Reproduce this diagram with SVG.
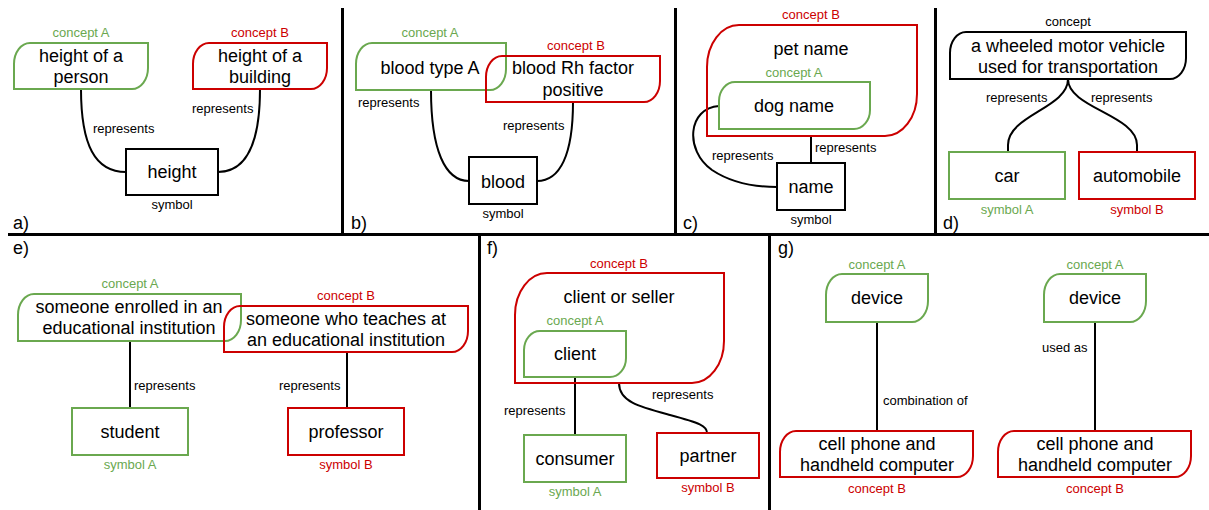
<svg xmlns="http://www.w3.org/2000/svg" width="1209" height="510" viewBox="0 0 1209 510">
  <style>
    text { font-family: "Liberation Sans", Arial, sans-serif; }
    .main { font-size: 18px; fill: #000; text-anchor: middle; }
    .lbl { font-size: 13px; fill: #000; }
    .cap { font-size: 13px; text-anchor: middle; }
    .tag { font-size: 18px; fill: #000; }
    .g { fill: #6aa84f; }
    .r { fill: #cc0000; }
    .k { fill: #000; }
    .boxg { fill: none; stroke: #6aa84f; stroke-width: 2; }
    .boxr { fill: none; stroke: #cc0000; stroke-width: 2; }
    .boxk { fill: none; stroke: #000; stroke-width: 2; }
    .edge { fill: none; stroke: #000; stroke-width: 2; }
    .div { fill: none; stroke: #000; stroke-width: 3; }
  </style>
  <rect width="1209" height="510" fill="#fff"/>

  <!-- panel dividers -->
  <g id="dividers">
    <line class="div" x1="8" y1="234.5" x2="1209" y2="234.5"/>
    <line class="div" x1="342.5" y1="8" x2="342.5" y2="234"/>
    <line class="div" x1="675.5" y1="8" x2="675.5" y2="234"/>
    <line class="div" x1="935.5" y1="8" x2="935.5" y2="234"/>
    <line class="div" x1="479.5" y1="234" x2="479.5" y2="510"/>
    <line class="div" x1="769.5" y1="234" x2="769.5" y2="510"/>
  </g>

  <!-- connectors -->
  <g id="connectors">
    <!-- a -->
    <path class="edge" d="M81,89 C81,145 95,172 126,172"/>
    <path class="edge" d="M260,89 C260,145 246,172 218,172"/>
    <!-- b -->
    <path class="edge" d="M431,90 C431,150 445,181 469,181"/>
    <path class="edge" d="M573,102 C573,155 560,181 537,181"/>
    <!-- c -->
    <line class="edge" x1="811" y1="136" x2="811" y2="163"/>
    <path class="edge" d="M719,106 C688,108 684,150 712,170 C730,182 752,187 777,187"/>
    <!-- d -->
    <path class="edge" d="M1068,79 C1068,108 1008,115 1008,145 V152"/>
    <path class="edge" d="M1068,79 C1068,108 1137,115 1137,145 V152"/>
    <!-- e -->
    <line class="edge" x1="130" y1="341" x2="130" y2="408"/>
    <line class="edge" x1="347" y1="352" x2="347" y2="408"/>
    <!-- f -->
    <line class="edge" x1="575" y1="377" x2="575" y2="435"/>
    <path class="edge" d="M619,383 C619,402 640,407 670,415 C700,423 707,426 707,433"/>
    <!-- g -->
    <line class="edge" x1="877" y1="322" x2="877" y2="431"/>
    <line class="edge" x1="1095" y1="322" x2="1095" y2="431"/>
  </g>

  <!-- connector labels -->
  <g id="edge-labels">
    <text class="lbl" x="93" y="133">represents</text>
    <text class="lbl" x="192" y="113">represents</text>
    <text class="lbl" x="358" y="107">represents</text>
    <text class="lbl" x="503" y="130">represents</text>
    <text class="lbl" x="815" y="152">represents</text>
    <text class="lbl" x="712" y="160">represents</text>
    <text class="lbl" x="986" y="102">represents</text>
    <text class="lbl" x="1091" y="102">represents</text>
    <text class="lbl" x="134" y="390">represents</text>
    <text class="lbl" x="279" y="390">represents</text>
    <text class="lbl" x="504" y="415">represents</text>
    <text class="lbl" x="652" y="399">represents</text>
    <text class="lbl" x="883" y="405">combination of</text>
    <text class="lbl" x="1042" y="352">used as</text>
  </g>

  <!-- panel tags -->
  <g id="tags">
    <text class="tag" x="13" y="229">a)</text>
    <text class="tag" x="351" y="229">b)</text>
    <text class="tag" x="683" y="229">c)</text>
    <text class="tag" x="943" y="229">d)</text>
    <text class="tag" x="13" y="254">e)</text>
    <text class="tag" x="487" y="254">f)</text>
    <text class="tag" x="778" y="254">g)</text>
  </g>

  <!-- a) height -->
  <g id="a-concept-a">
    <text class="cap g" x="81" y="37">concept A</text>
    <path class="boxg" d="M30,43 H148 V68 A16 21 0 0 1 132,89 H14 V64 A16 21 0 0 1 30,43 Z"/>
    <text class="main" x="81" y="62">height of a</text>
    <text class="main" x="81" y="83">person</text>
  </g>
  <g id="a-concept-b">
    <text class="cap r" x="260" y="37">concept B</text>
    <path class="boxr" d="M209,43 H327 V68 A16 21 0 0 1 311,89 H193 V64 A16 21 0 0 1 209,43 Z"/>
    <text class="main" x="260" y="62">height of a</text>
    <text class="main" x="260" y="83">building</text>
  </g>
  <g id="a-symbol">
    <rect class="boxk" x="126" y="149" width="92" height="46"/>
    <text class="main" x="172" y="178">height</text>
    <text class="cap k" x="172" y="209">symbol</text>
  </g>

  <!-- b) blood -->
  <g id="b-concept-a">
    <text class="cap g" x="430" y="37">concept A</text>
    <path class="boxg" d="M372,43 H506 V69 A16 21 0 0 1 490,90 H356 V64 A16 21 0 0 1 372,43 Z"/>
    <text class="main" x="430" y="74">blood type A</text>
  </g>
  <g id="b-concept-b">
    <text class="cap r" x="576" y="50">concept B</text>
    <path class="boxr" d="M502,56 H660 V81 A16 21 0 0 1 644,102 H486 V77 A16 21 0 0 1 502,56 Z"/>
    <text class="main" x="573" y="74">blood Rh factor</text>
    <text class="main" x="573" y="96">positive</text>
  </g>
  <g id="b-symbol">
    <rect class="boxk" x="469" y="157" width="68" height="47"/>
    <text class="main" x="503" y="188">blood</text>
    <text class="cap k" x="503" y="218">symbol</text>
  </g>

  <!-- c) name -->
  <g id="c-concept-b">
    <text class="cap r" x="811" y="19">concept B</text>
    <path class="boxr" d="M739,25 H917 V94 A32 42 0 0 1 885,136 H707 V67 A32 42 0 0 1 739,25 Z"/>
    <text class="main" x="811" y="55">pet name</text>
  </g>
  <g id="c-concept-a">
    <text class="cap g" x="794" y="77">concept A</text>
    <path class="boxg" d="M735,82 H870 V110 A16 19 0 0 1 854,129 H719 V101 A16 19 0 0 1 735,82 Z"/>
    <text class="main" x="794" y="112">dog name</text>
  </g>
  <g id="c-symbol">
    <rect class="boxk" x="777" y="163" width="68" height="47"/>
    <text class="main" x="811" y="193">name</text>
    <text class="cap k" x="811" y="224">symbol</text>
  </g>

  <!-- d) car / automobile -->
  <g id="d-concept">
    <text class="cap k" x="1068" y="26">concept</text>
    <path class="boxk" d="M966,32 H1186 V58 A16 21 0 0 1 1170,79 H950 V53 A16 21 0 0 1 966,32 Z"/>
    <text class="main" x="1068" y="52">a wheeled motor vehicle</text>
    <text class="main" x="1068" y="73">used for transportation</text>
  </g>
  <g id="d-symbol-a">
    <rect class="boxg" x="949" y="152" width="116" height="47"/>
    <text class="main" x="1007" y="182">car</text>
    <text class="cap g" x="1007" y="214">symbol A</text>
  </g>
  <g id="d-symbol-b">
    <rect class="boxr" x="1079" y="152" width="116" height="47"/>
    <text class="main" x="1137" y="182">automobile</text>
    <text class="cap r" x="1137" y="214">symbol B</text>
  </g>

  <!-- e) student / professor -->
  <g id="e-concept-a">
    <text class="cap g" x="130" y="288">concept A</text>
    <path class="boxg" d="M34,294 H241 V320 A16 21 0 0 1 225,341 H18 V315 A16 21 0 0 1 34,294 Z"/>
    <text class="main" x="129" y="313">someone enrolled in an</text>
    <text class="main" x="129" y="334">educational institution</text>
  </g>
  <g id="e-concept-b">
    <text class="cap r" x="346" y="300">concept B</text>
    <path class="boxr" d="M240,306 H468 V331 A16 21 0 0 1 452,352 H224 V327 A16 21 0 0 1 240,306 Z"/>
    <text class="main" x="346" y="325">someone who teaches at</text>
    <text class="main" x="346" y="346">an educational institution</text>
  </g>
  <g id="e-symbol-a">
    <rect class="boxg" x="72" y="408" width="116" height="47"/>
    <text class="main" x="130" y="438">student</text>
    <text class="cap g" x="130" y="469">symbol A</text>
  </g>
  <g id="e-symbol-b">
    <rect class="boxr" x="288" y="408" width="116" height="47"/>
    <text class="main" x="346" y="438">professor</text>
    <text class="cap r" x="346" y="469">symbol B</text>
  </g>

  <!-- f) client / consumer / partner -->
  <g id="f-concept-b">
    <text class="cap r" x="619" y="268">concept B</text>
    <path class="boxr" d="M547,273 H724 V341 A32 42 0 0 1 692,383 H515 V315 A32 42 0 0 1 547,273 Z"/>
    <text class="main" x="619" y="303">client or seller</text>
  </g>
  <g id="f-concept-a">
    <text class="cap g" x="575" y="325">concept A</text>
    <path class="boxg" d="M540,331 H626 V358 A16 19 0 0 1 610,377 H524 V350 A16 19 0 0 1 540,331 Z"/>
    <text class="main" x="575" y="360">client</text>
  </g>
  <g id="f-symbol-a">
    <rect class="boxg" x="524" y="435" width="102" height="47"/>
    <text class="main" x="575" y="465">consumer</text>
    <text class="cap g" x="575" y="496">symbol A</text>
  </g>
  <g id="f-symbol-b">
    <rect class="boxr" x="657" y="433" width="102" height="45"/>
    <text class="main" x="708" y="462">partner</text>
    <text class="cap r" x="708" y="492">symbol B</text>
  </g>

  <!-- g) device -->
  <g id="g-left-concept-a">
    <text class="cap g" x="877" y="269">concept A</text>
    <path class="boxg" d="M842,274 H928 V301 A16 21 0 0 1 912,322 H826 V295 A16 21 0 0 1 842,274 Z"/>
    <text class="main" x="877" y="304">device</text>
  </g>
  <g id="g-left-concept-b">
    <path class="boxr" d="M796,431 H973 V456 A16 21 0 0 1 957,477 H780 V452 A16 21 0 0 1 796,431 Z"/>
    <text class="main" x="877" y="450">cell phone and</text>
    <text class="main" x="877" y="471">handheld computer</text>
    <text class="cap r" x="877" y="493">concept B</text>
  </g>
  <g id="g-right-concept-a">
    <text class="cap g" x="1095" y="269">concept A</text>
    <path class="boxg" d="M1060,274 H1146 V301 A16 21 0 0 1 1130,322 H1044 V295 A16 21 0 0 1 1060,274 Z"/>
    <text class="main" x="1095" y="304">device</text>
  </g>
  <g id="g-right-concept-b">
    <path class="boxr" d="M1014,431 H1191 V456 A16 21 0 0 1 1175,477 H998 V452 A16 21 0 0 1 1014,431 Z"/>
    <text class="main" x="1095" y="450">cell phone and</text>
    <text class="main" x="1095" y="471">handheld computer</text>
    <text class="cap r" x="1095" y="493">concept B</text>
  </g>
</svg>
